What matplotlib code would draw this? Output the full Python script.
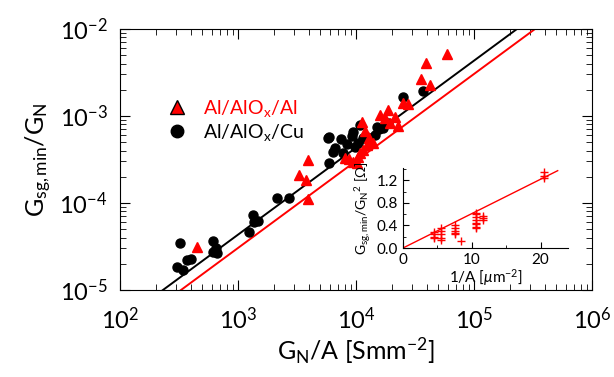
import numpy as np
import matplotlib
matplotlib.use('Agg')
import matplotlib.pyplot as plt
from matplotlib.lines import Line2D
from matplotlib.ticker import LogLocator, MultipleLocator, NullFormatter

# Al/AlOx/Cu (black circles), log10 values
cu_logx = [2.508, 2.486, 2.531, 2.571, 2.599, 2.785, 2.791, 2.814, 2.825, 3.09,
           3.13, 3.136, 3.172, 3.328, 3.435, 3.768, 3.765, 3.771, 3.808, 3.822,
           3.876, 3.887, 3.926, 3.963, 3.977, 3.992, 4.02, 4.034, 4.062, 4.09,
           4.161, 4.181, 4.197, 4.226, 4.274, 4.396, 4.565]
cu_logy = [-4.463, -4.732, -4.770, -4.655, -4.647, -4.433, -4.56, -4.52, -4.571, -4.337,
           -4.138, -4.215, -4.203, -3.946, -3.943, -3.238, -3.25, -3.537, -3.41, -3.372,
           -3.268, -3.429, -3.322, -3.23, -3.18, -3.353, -3.314, -3.103, -3.256, -3.238,
           -3.218, -3.123, -3.153, -3.141, -3.077, -2.785, -2.709]

# Al/AlOx/Al (red triangles), log10 values
al_logx = [2.65, 3.52, 3.574, 3.591, 3.591, 3.907, 3.943, 3.977, 4.005, 4.02,
           4.034, 4.048, 4.062, 4.076, 4.09, 4.113, 4.147, 4.203, 4.246, 4.274,
           4.288, 4.331, 4.359, 4.401, 4.443, 4.548, 4.593, 4.627, 4.774]
al_logy = [-4.502, -3.678, -3.736, -3.506, -3.954, -3.487, -3.498, -3.525, -3.544, -3.468,
           -3.429, -3.065, -3.391, -3.169, -3.33, -3.256, -3.314, -2.989, -3.026, -2.931,
           -3.084, -3.008, -3.115, -2.854, -2.862, -2.578, -2.394, -2.644, -2.287]

# fit lines G = c * GN/A
c_cu = 10 ** -7.364
c_al = 10 ** -7.517

# inset data: 1/A [um^-2] vs Gsg,min/GN^2 [Ohm]
ins_x = [4.5, 4.5, 4.5, 4.5, 5.5, 5.5, 5.5, 5.5, 5.5,
         7.5, 7.5, 7.5, 7.5, 7.5, 8.5,
         10.6, 10.6, 10.6, 10.6, 10.6, 10.6, 10.6, 10.6,
         11.6, 11.6, 11.6, 20.5, 20.5, 20.5]
ins_y = [0.17, 0.2, 0.24, 0.28, 0.15, 0.18, 0.25, 0.3, 0.35,
         0.25, 0.27, 0.3, 0.36, 0.4, 0.13,
         0.35, 0.38, 0.42, 0.45, 0.5, 0.55, 0.6, 0.62,
         0.5, 0.53, 0.57, 1.25, 1.28, 1.35]
ins_slope = 0.061

plt.rcParams['font.family'] = ['Lato', 'DejaVu Sans']
plt.rcParams['mathtext.fontset'] = 'custom'
plt.rcParams['mathtext.rm'] = 'Lato'
plt.rcParams['mathtext.it'] = 'Lato:italic'

fig = plt.figure(figsize=(6.14, 3.77), dpi=100)
ax = fig.add_axes([120 / 614, 1 - 290 / 377, 472 / 614, 261 / 377])

ax.plot(10 ** np.array(cu_logx), 10 ** np.array(cu_logy), 'o', color='black',
        markersize=6.5, zorder=3)
ax.plot(10 ** np.array(al_logx), 10 ** np.array(al_logy), '^', color='red',
        markersize=6.5, zorder=3)

xx = np.logspace(2, 6, 50)
ax.plot(xx, c_cu * xx, color='black', lw=1.4)
ax.plot(xx, c_al * xx, color='red', lw=1.4)

ax.set_xscale('log')
ax.set_yscale('log')
ax.set_xlim(1e2, 1e6)
ax.set_ylim(1e-5, 1e-2)
ax.tick_params(which='both', direction='in', top=True, right=True, labelsize=17)
ax.tick_params(which='major', length=7)
ax.tick_params(which='minor', length=4)
ax.tick_params(axis='x', which='major', pad=12)
ax.tick_params(axis='y', which='major', pad=9)
ax.xaxis.set_minor_locator(LogLocator(subs=np.arange(2, 10)))
ax.yaxis.set_minor_locator(LogLocator(subs=np.arange(2, 10)))
ax.xaxis.set_minor_formatter(NullFormatter())
ax.yaxis.set_minor_formatter(NullFormatter())
ax.set_xlabel('G$_\\mathregular{N}$/A [Smm$^\\mathregular{-2}$]', fontsize=18, labelpad=2)
ax.set_ylabel('G$_\\mathregular{sg,min}$/G$_\\mathregular{N}$', fontsize=18, labelpad=4)

# legend with colored text
handles = [Line2D([], [], marker='^', ls='none', color='red', mec='black',
                  markersize=10),
           Line2D([], [], marker='o', ls='none', color='black', markersize=9)]
labels = ['Al/AlO$_\\mathregular{x}$/Al', 'Al/AlO$_\\mathregular{x}$/Cu']
leg = ax.legend(handles, labels, loc='upper left', bbox_to_anchor=(0.1, 0.735),
                frameon=False, fontsize=14, handlelength=1, handletextpad=0.85,
                borderpad=0, borderaxespad=0, labelspacing=0.15)
leg.get_texts()[0].set_color('red')

# inset
ins = fig.add_axes([403 / 614, 1 - 248 / 377, 165 / 614, 80 / 377])
ins.plot(ins_x, ins_y, '+', color='red', markersize=6, mew=1)
xi = np.array([0, 22.5])
ins.plot(xi, ins_slope * xi, color='red', lw=1)
ins.set_xlim(0, 24)
ins.set_ylim(0, 1.42)
ins.spines['top'].set_visible(False)
ins.spines['right'].set_visible(False)
ins.yaxis.set_major_locator(MultipleLocator(0.4))
ins.yaxis.set_minor_locator(MultipleLocator(0.2))
ins.xaxis.set_major_locator(MultipleLocator(10))
ins.xaxis.set_minor_locator(MultipleLocator(5))
ins.tick_params(which='both', direction='in', labelsize=11)
ins.tick_params(which='major', length=4)
ins.tick_params(which='minor', length=2)
ins.set_xlabel('1/A [$\\mu$m$^\\mathregular{-2}$]', fontsize=11, labelpad=0)
ins.set_ylabel('G$_\\mathregular{sg,min}$/G$_\\mathregular{N}$$^\\mathregular{2}$ [$\\Omega$]',
               fontsize=10, labelpad=2)
ins.patch.set_alpha(0)

fig.savefig('out.png', dpi=100)
